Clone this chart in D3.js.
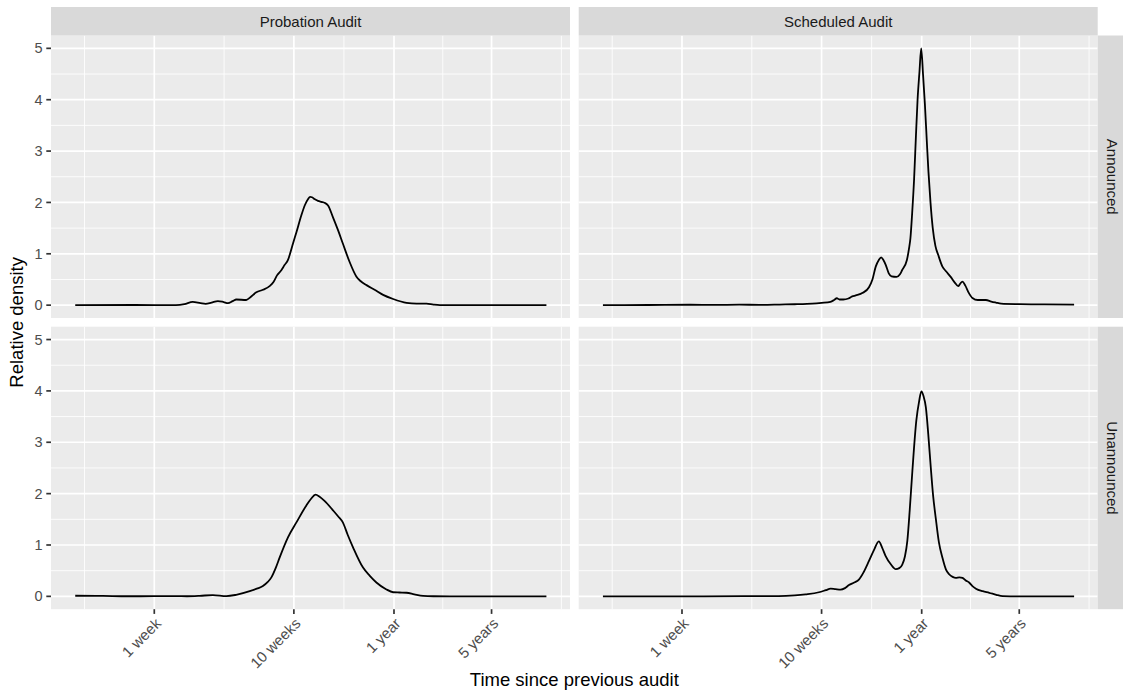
<!DOCTYPE html>
<html>
<head>
<meta charset="utf-8">
<script src="https://cdn.jsdelivr.net/npm/d3@7"></script>
<style>
  body { margin: 0; background: #fff; }
  svg text { font-family: "Liberation Sans", Arial, sans-serif; }
</style>
</head>
<body>
<svg id="chart" width="1123" height="697"></svg>
<script>
// facet labels
var auditTypes = ["Probation Audit", "Scheduled Audit"];
var noticeTypes = ["Announced", "Unannounced"];

// x axis (days since previous audit, log scale)
var tickDays = [7, 70, 365, 1825];
var tickLabels = ["1 week", "10 weeks", "1 year", "5 years"];
var dataRangeDays = [1.88, 4510];
var yTicks = [0, 1, 2, 3, 4, 5];
var yRange = [0, 5];

// density curves: [days, relative density]
var probationAnnounced = [
  [1.9,0],[5,0.003],[10,0.002],[11.5,0.02],[13.2,0.065],[15,0.04],[16.3,0.025],[18,0.05],
  [20,0.08],[22,0.06],[23.6,0.04],[25.5,0.08],[27.1,0.11],[31.9,0.1],[34,0.15],[37.7,0.25],
  [42,0.3],[46.9,0.37],[50,0.45],[53,0.58],[56.9,0.68],[60,0.78],[63.5,0.88],[66,1.02],
  [69,1.2],[73,1.42],[79.2,1.75],[84,1.95],[88.3,2.06],[91.5,2.11],[94.4,2.1],[99,2.06],
  [104.2,2.03],[110,2.01],[116.7,1.99],[123,1.94],[133,1.72],[145,1.46],[157,1.2],[175,0.85],
  [196,0.56],[210,0.47],[232,0.39],[265,0.3],[305,0.2],[360,0.12],[449,0.045],[530,0.03],
  [624,0.03],[700,0.01],[778,0],[4510,0]
];
var scheduledAnnounced = [
  [1.9,0],[4,0.003],[8,0.008],[12,0.004],[18,0.01],[25,0.006],[35,0.012],[45,0.018],
  [55,0.025],[60,0.03],[70,0.045],[81,0.065],[86,0.1],[90,0.135],[94,0.11],[100,0.11],
  [109,0.13],[116,0.17],[123,0.19],[138,0.24],[153,0.35],[162,0.5],[171,0.75],[180,0.88],
  [187,0.93],[194,0.88],[202,0.78],[212,0.62],[222,0.56],[241,0.55],[255,0.6],[264,0.68],
  [286,0.88],[296,1.1],[303,1.3],[312,1.8],[322,2.45],[332,3.3],[341,4.0],[352,4.55],
  [362,5.0],[373,4.5],[385,3.9],[397,3.2],[408,2.6],[422,2.0],[438,1.5],[458,1.15],
  [479,0.98],[514,0.75],[545,0.66],[589,0.55],[630,0.44],[666,0.37],[690,0.42],[714,0.46],
  [750,0.38],[790,0.25],[843,0.14],[920,0.1],[1052,0.1],[1150,0.07],[1241,0.05],[1352,0.03],
  [1820,0.02],[2755,0.015],[4510,0.01]
];
var probationUnannounced = [
  [1.9,0.012],[3,0.008],[4.5,0.002],[7,0.003],[10,0.005],[12,0.002],[14.8,0.01],[18.4,0.025],
  [23,0.005],[27,0.03],[33.8,0.1],[38,0.15],[42,0.2],[45.5,0.28],[48.3,0.37],[52,0.56],
  [55.4,0.76],[63.5,1.15],[73,1.44],[86,1.77],[93,1.9],[100,1.98],[107,1.94],[116,1.86],
  [134,1.67],[145,1.56],[157,1.44],[170,1.2],[186,0.95],[219,0.56],[245,0.4],[273,0.27],
  [320,0.14],[360,0.08],[400,0.075],[449,0.07],[510,0.04],[590,0.01],[700,0.002],[918,0],
  [4510,0]
];
var scheduledUnannounced = [
  [1.9,0],[10,0.001],[20,0.003],[34.5,0.005],[45,0.02],[53.7,0.04],[67,0.08],[75,0.12],
  [81.3,0.15],[88,0.14],[95.8,0.13],[103,0.16],[110,0.22],[120,0.27],[130,0.33],[140,0.47],
  [153,0.69],[166,0.9],[180,1.07],[190,0.95],[201,0.79],[220,0.62],[238,0.53],[252,0.55],
  [265,0.62],[277,0.78],[288,1.08],[300,1.7],[313,2.44],[334,3.42],[350,3.8],[363,3.99],
  [376,3.9],[391,3.68],[407,3.15],[424,2.51],[441,1.95],[460,1.53],[485,1.05],[514,0.75],
  [545,0.52],[574,0.43],[608,0.38],[641,0.36],[680,0.37],[715,0.36],[755,0.31],[798,0.27],
  [843,0.2],[893,0.15],[1000,0.1],[1112,0.07],[1250,0.03],[1387,0.005],[2153,0],[4510,0]
];

// rows = notice type, columns = audit type
var curves = [
  [probationAnnounced, scheduledAnnounced],
  [probationUnannounced, scheduledUnannounced]
];

// layout
var marginLeft = 51, marginTop = 7;
var stripH = 28.5, panelW = 519, panelH = 282.5, gap = 8.7;
var tickLen = 4.7;

var svg = d3.select("#chart");

// ggplot style 5% expansion on log scale
var lo = Math.log10(dataRangeDays[0]), hi = Math.log10(dataRangeDays[1]);
var ex = (hi - lo) * 0.05;
var x = d3.scaleLog()
  .domain([Math.pow(10, lo - ex), Math.pow(10, hi + ex)])
  .range([0, panelW]);

var yex = (yRange[1] - yRange[0]) * 0.05;
var y = d3.scaleLinear()
  .domain([yRange[0] - yex, yRange[1] + yex])
  .range([panelH, 0]);

// minor breaks halfway between majors (in log space), extended one step each side
var ext = [tickDays[0] / 10].concat(tickDays, [tickDays[tickDays.length - 1] * 10]);
var xMinor = [];
for (var i = 0; i < ext.length - 1; i++) {
  var m = Math.sqrt(ext[i] * ext[i + 1]);
  if (m > x.domain()[0] && m < x.domain()[1]) xMinor.push(m);
}
var yMinor = yTicks.slice(0, -1).map(function(v) { return v + 0.5; });

var line = d3.line()
  .x(function(d) { return x(d[0]); })
  .y(function(d) { return y(d[1]); })
  .curve(d3.curveMonotoneX);

noticeTypes.forEach(function(notice, r) {
  auditTypes.forEach(function(audit, c) {
    var px = marginLeft + c * (panelW + gap);
    var py = marginTop + stripH + r * (panelH + gap);
    var g = svg.append("g").attr("transform", "translate(" + px + "," + py + ")");

    g.append("rect").attr("width", panelW).attr("height", panelH).attr("fill", "#EBEBEB");

    g.selectAll(".xminor").data(xMinor).enter().append("line")
      .attr("x1", x).attr("x2", x).attr("y1", 0).attr("y2", panelH)
      .attr("stroke", "#fff").attr("stroke-width", 0.85);
    g.selectAll(".yminor").data(yMinor).enter().append("line")
      .attr("y1", y).attr("y2", y).attr("x1", 0).attr("x2", panelW)
      .attr("stroke", "#fff").attr("stroke-width", 0.85);
    g.selectAll(".xmajor").data(tickDays).enter().append("line")
      .attr("x1", x).attr("x2", x).attr("y1", 0).attr("y2", panelH)
      .attr("stroke", "#fff").attr("stroke-width", 1.7);
    g.selectAll(".ymajor").data(yTicks).enter().append("line")
      .attr("y1", y).attr("y2", y).attr("x1", 0).attr("x2", panelW)
      .attr("stroke", "#fff").attr("stroke-width", 1.7);

    g.append("path")
      .attr("d", line(curves[r][c]))
      .attr("fill", "none")
      .attr("stroke", "#000")
      .attr("stroke-width", 1.8);

    // top strips
    if (r === 0) {
      svg.append("rect")
        .attr("x", px).attr("y", marginTop).attr("width", panelW).attr("height", stripH)
        .attr("fill", "#D9D9D9");
      svg.append("text")
        .attr("x", px + panelW / 2).attr("y", marginTop + stripH / 2)
        .attr("dy", "0.35em").attr("text-anchor", "middle")
        .attr("font-size", 15).attr("fill", "#1A1A1A")
        .text(audit);
    }
    // right strips
    if (c === 1) {
      var sx = px + panelW;
      svg.append("rect")
        .attr("x", sx).attr("y", py).attr("width", stripH).attr("height", panelH)
        .attr("fill", "#D9D9D9");
      svg.append("text")
        .attr("transform", "translate(" + (sx + stripH / 2) + "," + (py + panelH / 2) + ") rotate(90)")
        .attr("dy", "0.35em").attr("text-anchor", "middle")
        .attr("font-size", 15).attr("fill", "#1A1A1A")
        .text(notice);
    }
    // y axis on the left column
    if (c === 0) {
      var ya = g.append("g");
      ya.selectAll("line").data(yTicks).enter().append("line")
        .attr("x1", -tickLen).attr("x2", 0).attr("y1", y).attr("y2", y)
        .attr("stroke", "#333").attr("stroke-width", 1.7);
      ya.selectAll("text").data(yTicks).enter().append("text")
        .attr("x", -tickLen - 3.7).attr("y", y).attr("dy", "0.35em")
        .attr("text-anchor", "end").attr("font-size", 14.5).attr("fill", "#4D4D4D")
        .text(function(d) { return d; });
    }
    // x axis on the bottom row
    if (r === 1) {
      var xa = g.append("g").attr("transform", "translate(0," + panelH + ")");
      xa.selectAll("line").data(tickDays).enter().append("line")
        .attr("x1", x).attr("x2", x).attr("y1", 0).attr("y2", tickLen)
        .attr("stroke", "#333").attr("stroke-width", 1.7);
      xa.selectAll("text").data(tickDays).enter().append("text")
        .attr("transform", function(d) { return "translate(" + x(d) + "," + (tickLen + 3) + ") rotate(-45)"; })
        .attr("dy", "0.72em")
        .attr("text-anchor", "end").attr("font-size", 15).attr("fill", "#4D4D4D")
        .text(function(d, i) { return tickLabels[i]; });
    }
  });
});

// axis titles
var panelsRight = marginLeft + 2 * panelW + gap;
var panelsBottom = marginTop + stripH + 2 * panelH + gap;
svg.append("text")
  .attr("x", (marginLeft + panelsRight) / 2).attr("y", 686)
  .attr("text-anchor", "middle").attr("font-size", 18.5).attr("fill", "#000")
  .text("Time since previous audit");
svg.append("text")
  .attr("transform", "translate(23," + (marginTop + stripH + panelsBottom) / 2 + ") rotate(-90)")
  .attr("text-anchor", "middle").attr("font-size", 18.5).attr("fill", "#000")
  .text("Relative density");
</script>
</body>
</html>
